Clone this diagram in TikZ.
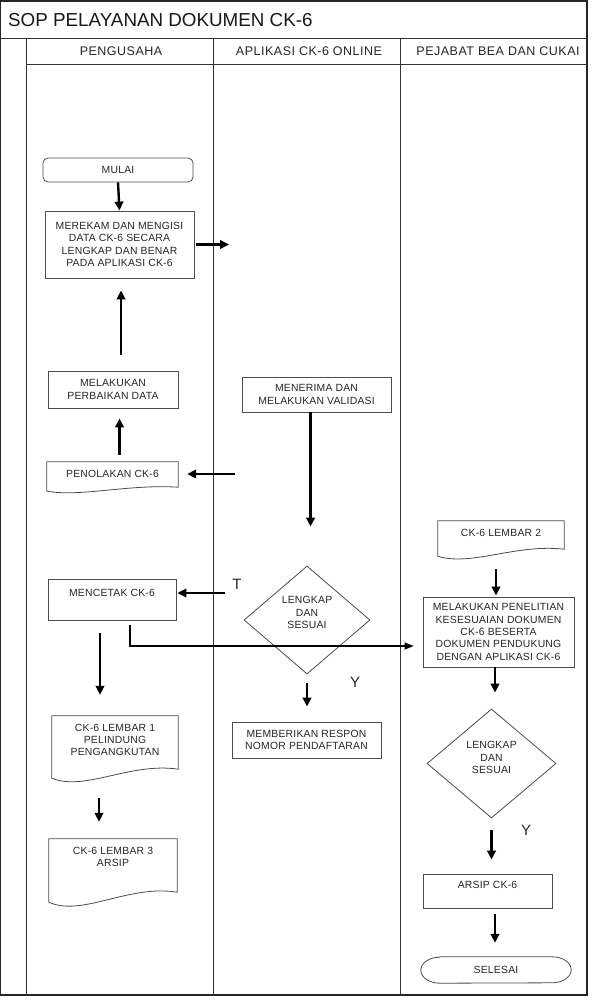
\documentclass[tikz,border=0pt]{standalone}
\usepackage{fontspec}
\setmainfont{Liberation Sans}
\newfontfamily\boxfont[LetterSpace=2]{Liberation Sans}
\newfontfamily\headfont[LetterSpace=4]{Liberation Sans}
\usetikzlibrary{shapes.geometric,arrows.meta,calc}
\newcommand\docoutline[2]{%
  \draw[outline] (#1.north west) -- (#1.north east) -- ($(#1.south east)+(0,-#2)$)
    .. controls ($(#1.south east)!0.38!(#1.south west)+(0,-1.8*#2)$) and ($(#1.south west)!0.26!(#1.south east)+(0,1.5*#2)$) .. (#1.south west) -- cycle;}
\begin{document}
\begin{tikzpicture}[x=1pt,y=-1pt,
  frame/.style={draw=black!85, line width=1.3pt},
  rule/.style={draw=black!80, line width=0.8pt},
  boxtext/.style={text=black!85, align=center, inner sep=0pt, font=\boxfont\fontsize{10.4}{12.3}\selectfont},
  box/.style={boxtext, rectangle, draw=black!70, line width=0.8pt},
  docnode/.style={boxtext, rectangle, draw=none},
  inlbl/.style={boxtext, anchor=center},
  outline/.style={draw=black!70, line width=0.8pt},
  decision/.style={diamond, draw=black!70, line width=0.8pt, inner sep=0pt},
  arr/.style={draw=black, line width=2.4pt, -{Triangle[length=9pt,width=8.5pt]}},
  arrthin/.style={draw=black, line width=1.2pt, -{Triangle[length=9pt,width=7pt]}},
  yt/.style={font=\fontsize{15}{15}\selectfont, text=black!85, inner sep=0pt},
  head/.style={font=\headfont\fontsize{12.5}{14}\selectfont, text=black!85, inner sep=0pt}]

\useasboundingbox (0,0) rectangle (593,1000);
\fill[white] (0,0) rectangle (593,1000);

% frame and lanes
\draw[frame] (0.8,1) rectangle (587,995);
\draw[rule] (0.8,38) -- (587,38);
\draw[rule] (26.5,38) -- (26.5,995);
\draw[rule] (26.5,64) -- (587,64);
\draw[rule] (213,38) -- (213,995);
\draw[rule] (400,38) -- (400,995);

\node[anchor=west, inner sep=0pt, font=\fontsize{18.8}{20}\selectfont, text=black!90] (title) at (8,20) {SOP PELAYANAN DOKUMEN CK-6};
\node[head] (h1) at (121,51) {PENGUSAHA};
\node[head] (h2) at (309,51) {APLIKASI CK-6 ONLINE};
\node[head] (h3) at (498,51) {PEJABAT BEA DAN CUKAI};

% lane 1
\node[box, rounded corners=5pt, minimum width=150pt, minimum height=24pt] (mulai) at (118,170) {MULAI};
\node[box, minimum width=149pt, minimum height=67pt] (merekam) at (119.5,244.5) {MEREKAM DAN MENGISI\\DATA CK-6 SECARA\\LENGKAP DAN BENAR\\PADA APLIKASI CK-6};
\node[box, minimum width=130pt, minimum height=37pt] (perbaikan) at (113,389.5) {MELAKUKAN\\PERBAIKAN DATA};
\node[docnode, minimum width=131pt, minimum height=29pt, label={[inlbl, yshift=-12pt]north:PENOLAKAN CK-6}] (penolakan) at (112.5,476.5) {};
\docoutline{penolakan}{4}
\node[box, minimum width=128pt, minimum height=41pt, label={[inlbl, yshift=-14pt]north:MENCETAK CK-6}] (mencetak) at (112,599.5) {};
\node[docnode, minimum width=126pt, minimum height=62pt, label={[inlbl, yshift=-24pt]north:{CK-6 LEMBAR 1\\PELINDUNG\\PENGANGKUTAN}}] (lembar1) at (115,747) {};
\docoutline{lembar1}{9}
\node[docnode, minimum width=128pt, minimum height=63pt, label={[inlbl, yshift=-18pt]north:{CK-6 LEMBAR 3\\ARSIP}}] (lembar3) at (113,870.5) {};
\docoutline{lembar3}{10}

% lane 2
\node[box, minimum width=149pt, minimum height=35pt] (menerima) at (316.5,394.5) {MENERIMA DAN\\MELAKUKAN VALIDASI};
\node[decision, minimum width=126pt, minimum height=108pt, label={[inlbl, yshift=-47pt]north:{LENGKAP\\DAN\\SESUAI}}] (dia1) at (307,620) {};
\node[box, minimum width=149pt, minimum height=36pt] (memberikan) at (306.5,740) {MEMBERIKAN RESPON\\NOMOR PENDAFTARAN};

% lane 3
\node[docnode, minimum width=126pt, minimum height=35pt, label={[inlbl, yshift=-12pt]north:CK-6 LEMBAR 2}] (lembar2) at (501,538.5) {};
\docoutline{lembar2}{7}
\node[box, minimum width=151pt, minimum height=70pt] (penelitian) at (498.5,632) {MELAKUKAN PENELITIAN\\KESESUAIAN DOKUMEN\\CK-6 BESERTA\\DOKUMEN PENDUKUNG\\DENGAN APLIKASI CK-6};
\node[decision, minimum width=129pt, minimum height=109pt, label={[inlbl, yshift=-49pt]north:{LENGKAP\\DAN\\SESUAI}}] (dia2) at (491.5,763.5) {};
\node[box, minimum width=129pt, minimum height=34pt, label={[inlbl, yshift=-11pt]north:ARSIP CK-6}] (arsip) at (487.5,891) {};
\node[docnode, minimum width=150pt, minimum height=26pt] (selesai) at (496,970) {SELESAI};
\draw[outline] ([xshift=19pt]selesai.north west) -- ([xshift=-19pt]selesai.north east)
  arc[start angle=90, end angle=-90, x radius=19pt, y radius=13pt]
  -- ([xshift=19pt]selesai.south west)
  arc[start angle=270, end angle=90, x radius=19pt, y radius=13pt] -- cycle;

% connectors
\coordinate (m1) at (229,245);
\coordinate (c1) at (235,474);
\coordinate (c2) at (225,593);
\coordinate (e1) at (130,646);

\draw[arr] (mulai.south) -- (merekam.north);
\draw[arr, shorten <=2pt] (merekam.east) -- (merekam.east -| m1);
\draw[arr, shorten <=16pt, shorten >=12pt] ([xshift=8pt]perbaikan.north) -- ([xshift=8pt]perbaikan.north |- merekam.south);
\draw[arr, shorten <=7pt, shorten >=10pt] ([xshift=7pt]penolakan.north) -- ([xshift=7pt]penolakan.north |- perbaikan.south);
\draw[arr, shorten >=9pt] (c1) -- (c1 -| penolakan.east);
\draw[arr, shorten >=39pt] ([xshift=-6pt]menerima.south) -- ([xshift=-6pt]menerima.south |- dia1.north);
\draw[arr, shorten >=1pt] (c2) -- (c2 -| mencetak.east);
\node[yt] (T) at (237,584) {T};
\draw[arrthin, shorten <=5pt, shorten >=9pt] (mencetak.south -| e1) -- (e1) -- (e1 -| penelitian.west);
\draw[arr, shorten <=13pt, shorten >=21pt] ([xshift=-12pt]mencetak.south) -- ([xshift=-12pt]mencetak.south |- lembar1.north);
\draw[arr, shorten <=9pt, shorten >=15pt] (dia1.south) -- (dia1.south |- memberikan.north);
\node[yt] (Y1) at (355,682) {Y};
\draw[arr, shorten <=20pt, shorten >=17pt] ([xshift=-16pt]lembar1.south) -- ([xshift=-16pt]lembar1.south |- lembar3.north);
\draw[arr, shorten <=13pt, shorten >=1pt] ([xshift=-5pt]lembar2.south) -- ([xshift=-5pt]lembar2.south |- penelitian.north);
\draw[arr, shorten >=16pt] ([xshift=-3.5pt]penelitian.south) -- ([xshift=-3.5pt]penelitian.south |- dia2.north);
\draw[arr, shorten <=12pt, shorten >=14pt] (dia2.south) -- (dia2.south |- arsip.north);
\node[yt] (Y2) at (526,830) {Y};
\draw[arr, shorten <=6pt, shorten >=14pt] ([xshift=7.5pt]arsip.south) -- ([xshift=7.5pt]arsip.south |- selesai.north);
\end{tikzpicture}
\end{document}
